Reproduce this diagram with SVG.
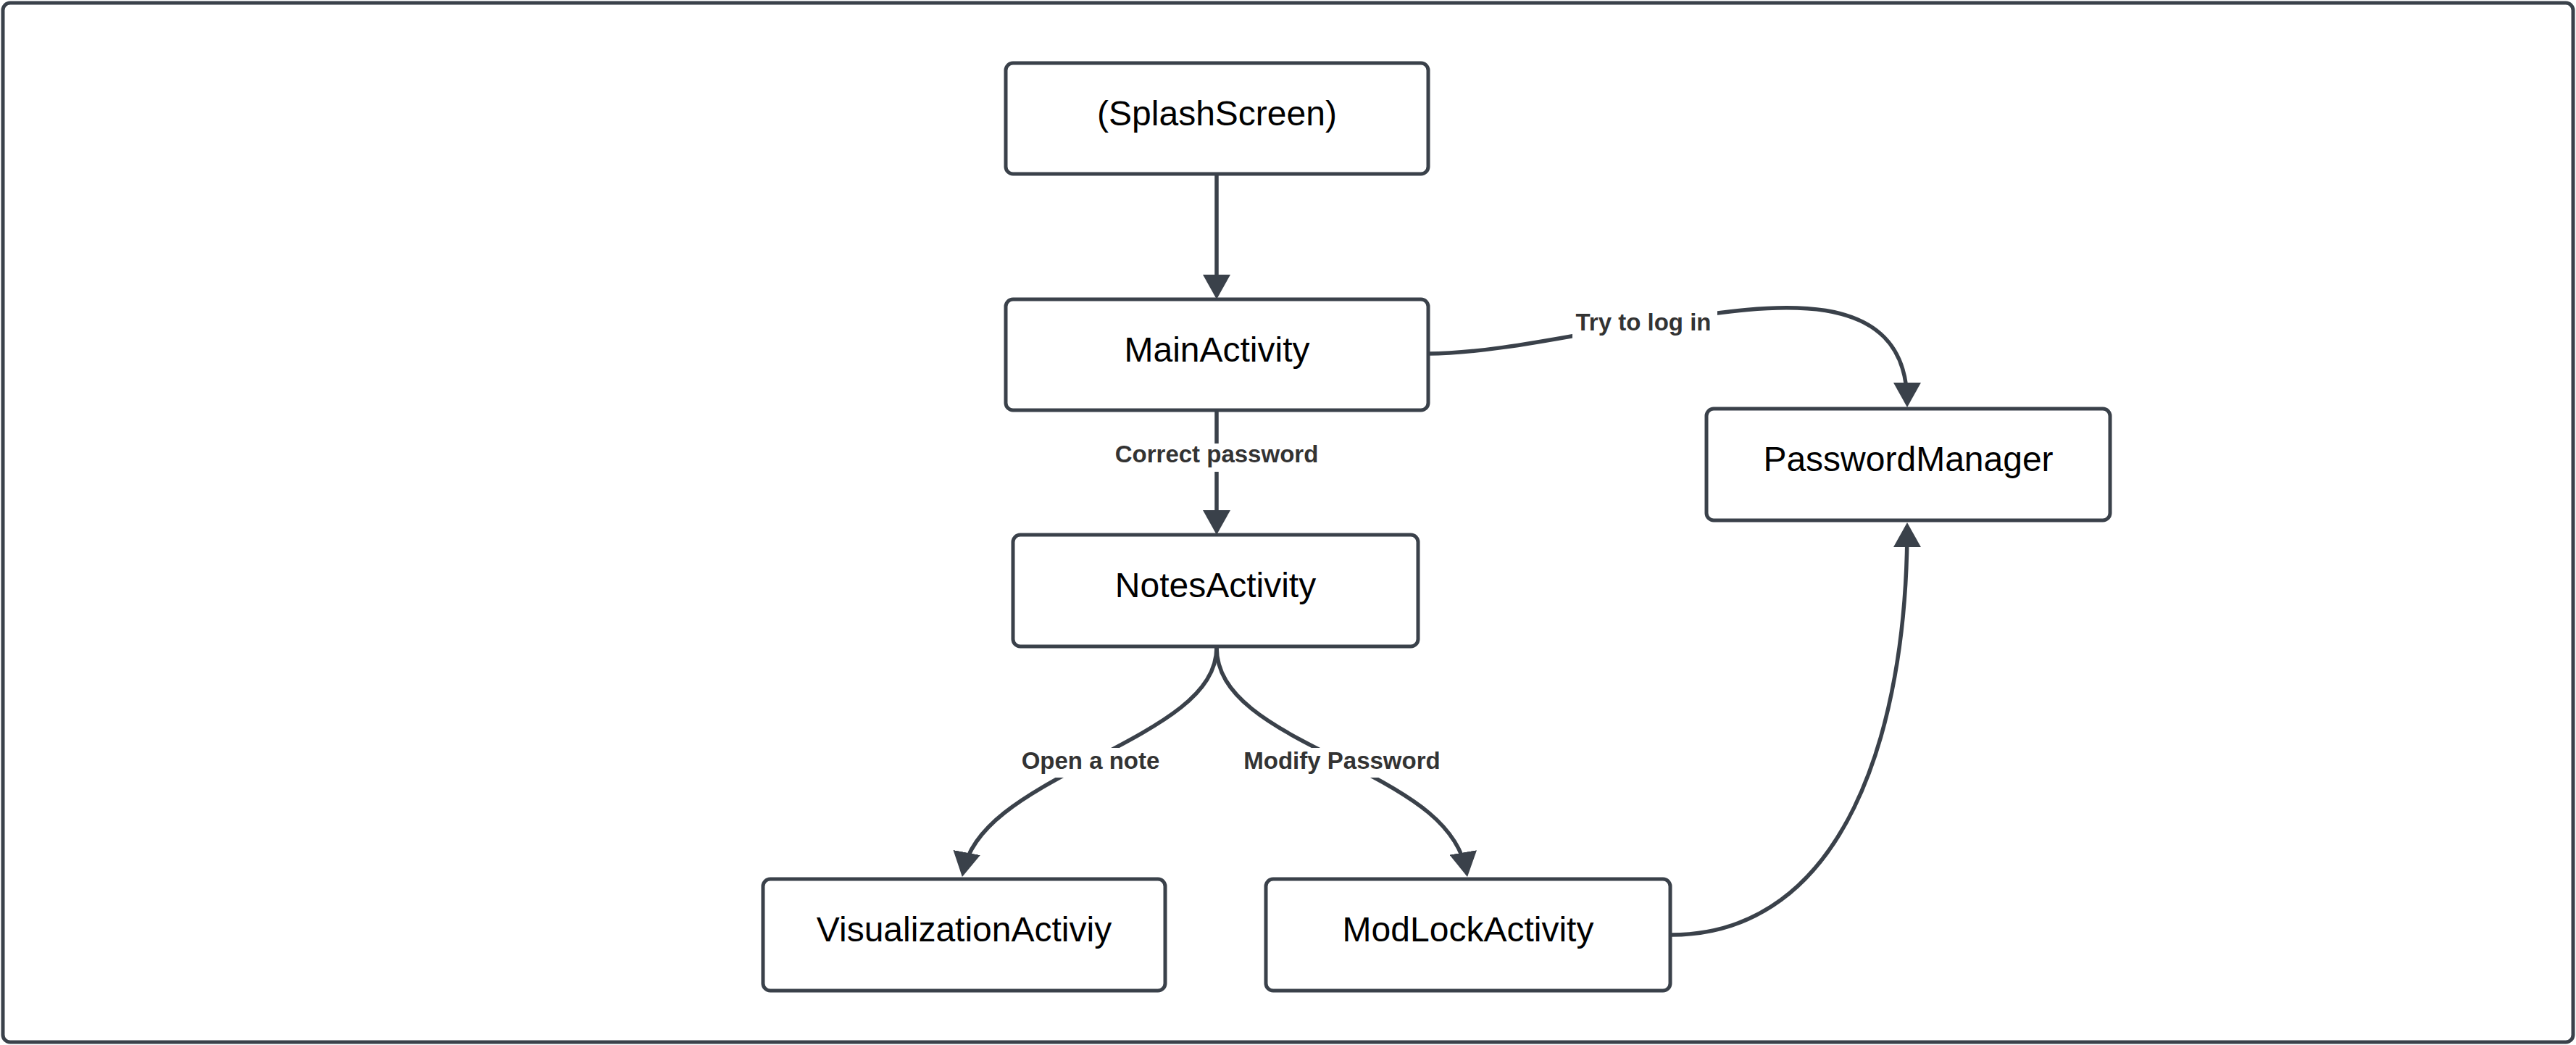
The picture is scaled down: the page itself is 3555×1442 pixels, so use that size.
<svg xmlns="http://www.w3.org/2000/svg" width="3555" height="1442" viewBox="0 0 3555 1442">
<style>
.frame{fill:#ffffff;stroke:#3a414a;stroke-width:5}
.box{fill:#ffffff;stroke:#3a414a;stroke-width:5}
.nt{font-family:"Liberation Sans",Arial,sans-serif;font-size:48px;fill:#000000;text-anchor:middle}
.edge{fill:none;stroke:#3a414a;stroke-width:5.5;marker-end:url(#ah)}
.lb{fill:#ffffff;stroke:none}
.lt{font-family:"Liberation Sans",Arial,sans-serif;font-size:33px;font-weight:bold;fill:#333333;text-anchor:middle}
</style>
<defs>
<marker id="ah" markerUnits="userSpaceOnUse" viewBox="0 0 34 38" markerWidth="34" markerHeight="38" refX="28" refY="19" orient="auto">
<path d="M0,0 L34,19 L0,38 Z" fill="#3a414a"/>
</marker>
</defs>
<rect width="3555" height="1442" fill="#ffffff"/>
<rect class="frame" x="4" y="4" width="3547" height="1434" rx="10"/>

<g id="connectors">
<path id="e1" class="edge" d="M1679,240 L1679,407"/>
<path id="e2" class="edge" d="M1679,566 L1679,732"/>
<path id="e3" class="edge" d="M1971,488 C2060,488 2180,460 2268,447 C2420,424 2632,380 2632,556"/>
<path id="e4" class="edge" d="M1679,893 C1679,960 1600,1000 1505,1050 C1410,1100 1341,1140 1329,1204"/>
<path id="e5" class="edge" d="M1679,893 C1679,960 1750,1000 1852,1050 C1954,1100 2013,1140 2024,1204"/>
<path id="e6" class="edge" d="M2306,1290 C2545,1290 2632,1010 2632,727"/>
<rect class="lb" x="1535" y="612" width="288" height="39"/>
<text class="lt" x="1679" y="638">Correct password</text>
<rect class="lb" x="2170" y="425" width="200" height="43"/>
<text class="lt" x="2268" y="456">Try to log in</text>
<rect class="lb" x="1400" y="1032" width="210" height="41"/>
<text class="lt" x="1505" y="1061">Open a note</text>
<rect class="lb" x="1710" y="1032" width="285" height="41"/>
<text class="lt" x="1852" y="1061">Modify Password</text>
</g>

<g id="splash">
<rect class="box" x="1388" y="87" width="583" height="153" rx="10"/>
<text class="nt" x="1679.5" y="173">(SplashScreen)</text>
</g>
<g id="main">
<rect class="box" x="1388" y="413" width="583" height="153" rx="10"/>
<text class="nt" x="1679.5" y="499">MainActivity</text>
</g>
<g id="notes">
<rect class="box" x="1398" y="738" width="559" height="154" rx="10"/>
<text class="nt" x="1677.5" y="824">NotesActivity</text>
</g>
<g id="password">
<rect class="box" x="2355" y="564" width="557" height="154" rx="10"/>
<text class="nt" x="2633.5" y="650">PasswordManager</text>
</g>
<g id="visualization">
<rect class="box" x="1053" y="1213" width="555" height="154" rx="10"/>
<text class="nt" x="1330.5" y="1299">VisualizationActiviy</text>
</g>
<g id="modlock">
<rect class="box" x="1747" y="1213" width="558" height="154" rx="10"/>
<text class="nt" x="2026" y="1299">ModLockActivity</text>
</g>
</svg>
